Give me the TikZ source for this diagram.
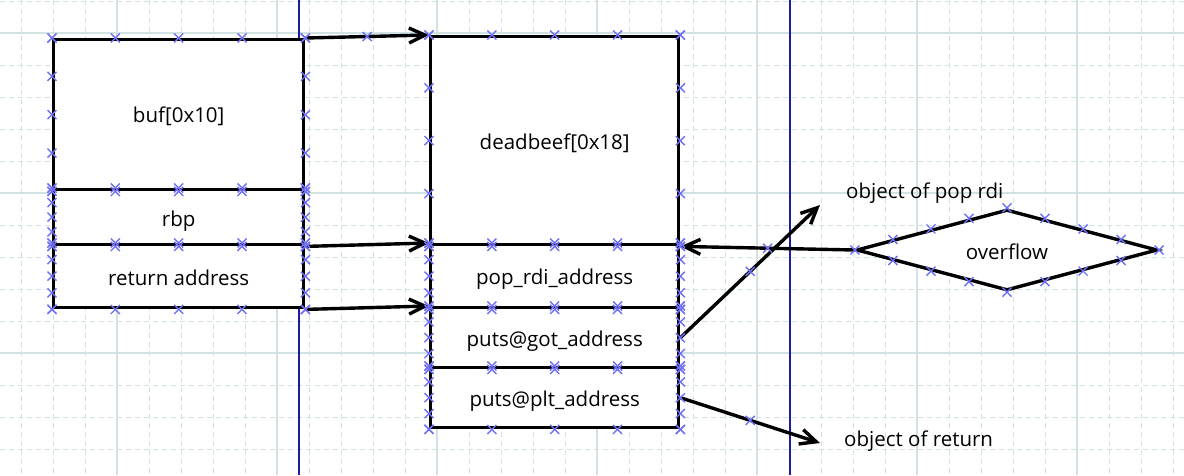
\documentclass[tikz,border=0pt]{standalone}
\usepackage{fontspec}
\setmainfont{Open Sans}
\usetikzlibrary{arrows.meta,shapes.geometric,calc}
\definecolor{gridc}{RGB}{208,226,226}
\definecolor{vlinec}{RGB}{28,28,160}
\definecolor{xmkc}{RGB}{112,112,245}
\begin{document}
\begin{tikzpicture}[x=1pt,y=-1pt,
  gridminor/.style={draw=gridc, line width=1pt, dash pattern=on 5pt off 4pt},
  gridmajor/.style={draw=gridc, line width=1.2pt},
  vline/.style={draw=vlinec, line width=1.8pt},
  membox/.style={draw=black, line width=3.4pt, fill=white, inner sep=0pt, anchor=north west},
  arr/.style={draw=black, line width=3.4pt, -{Straight Barb[length=16pt,width=15pt]}},
  lbl/.style={font=\fontsize{20.5}{24}\selectfont, inner sep=0pt},
  xx/.pic={\draw[xmkc, line width=1.4pt] (-4.5,-4.5) -- (4.5,4.5) (-4.5,4.5) -- (4.5,-4.5);}
]
\useasboundingbox (0,0) rectangle (1184,475);
\fill[white] (0,0) rectangle (1184,475);
% grid
\foreach \x in {21,53,...,1173} \draw[gridminor] (\x,0) -- (\x,475);
\foreach \y in {1,33,...,449} \draw[gridminor] (0,\y) -- (1184,\y);
\foreach \x in {117,277,...,1077} \draw[gridmajor] (\x,0) -- (\x,475);
\foreach \y in {33,193,353} \draw[gridmajor] (0,\y) -- (1184,\y);
% blue guide lines
\draw[vline] (299,0) -- (299,475);
\draw[vline] (790,0) -- (790,475);
% left stack
\node[membox, minimum width=250pt, minimum height=150pt] (buf) at (52,38) {};
\node[membox, minimum width=250pt, minimum height=55pt] (rbp) at (52,188) {};
\node[membox, minimum width=250pt, minimum height=63pt] (ret) at (52,243) {};
% right stack
\node[membox, minimum width=248pt, minimum height=208pt] (dead) at (429,35) {};
\node[membox, minimum width=248pt, minimum height=63pt] (pop) at (429,243) {};
\node[membox, minimum width=248pt, minimum height=60pt] (got) at (429,306) {};
\node[membox, minimum width=248pt, minimum height=60pt] (plt) at (429,366) {};
% diamond
\node[diamond, draw=black, line width=3.4pt, fill=white, inner sep=0pt, minimum width=301pt, minimum height=81pt] (ovf) at (1007,250) {};
% box texts
\node[lbl, yshift=-2pt] (tbuf) at (buf.center) {buf[0x10]};
\node[lbl, yshift=-4pt] (trbp) at (rbp.center) {rbp};
\node[lbl, yshift=-2pt] (tret) at (ret.center) {return address};
\node[lbl, yshift=-3pt] (tdead) at (dead.center) {deadbeef[0x18]};
\node[lbl, yshift=-3pt] (tpop) at (pop.center) {pop\_rdi\_address};
\node[lbl, yshift=-3pt] (tgot) at (got.center) {puts@got\_address};
\node[lbl, yshift=-3pt] (tplt) at (plt.center) {puts@plt\_address};
\node[lbl, yshift=-2pt] (tovf) at (ovf.center) {overflow};
% free ends
\coordinate (c1) at (820,205);
\coordinate (c2) at (820,443);
% arrows
\draw[arr] (buf.north east) -- (dead.north west);
\draw[arr] (rbp.south east) -- (pop.north west);
\draw[arr] (ret.south east) -- (got.north west);
\draw[arr] (ovf.west) -- (dead.south east);
\draw[arr] (got.east) -- (c1);
\draw[arr] (plt.east) -- (c2);
% labels
\node[lbl, anchor=west] (l1) at (846,193) {object of pop rdi};
\node[lbl, anchor=west] (l2) at (844,441) {object of return};
% connection markers
\foreach \n in {buf,rbp,ret,dead,pop,got,plt} {
  \foreach \f in {0,0.25,0.5,0.75,1} {
    \path ($(\n.north west)!\f!(\n.north east)$) pic{xx};
    \path ($(\n.south west)!\f!(\n.south east)$) pic{xx};
    \path ($(\n.north west)!\f!(\n.south west)$) pic{xx};
    \path ($(\n.north east)!\f!(\n.south east)$) pic{xx};
  }
}
\foreach \a/\b in {west/north,north/east,east/south,south/west} {
  \foreach \f in {0,0.25,0.5,0.75} {
    \path ($(ovf.\a)!\f!(ovf.\b)$) pic{xx};
  }
}
\path ($(buf.north east)!0.5!(dead.north west)$) pic{xx};
\path ($(ovf.west)!0.5!(dead.south east)$) pic{xx};
\path ($(got.east)!0.5!(c1)$) pic{xx};
\path ($(plt.east)!0.5!(c2)$) pic{xx};
\end{tikzpicture}
\end{document}
